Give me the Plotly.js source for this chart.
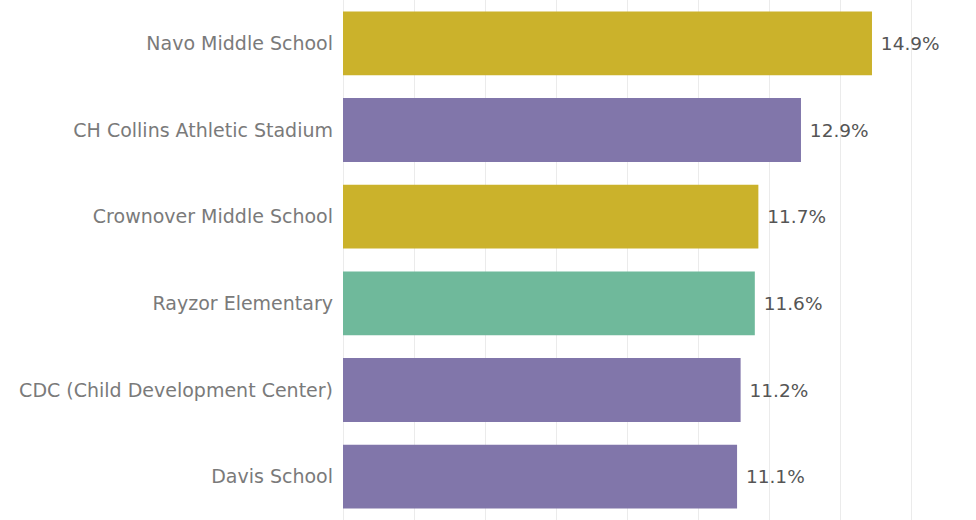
<!DOCTYPE html>
<html>
<head>
<meta charset="utf-8">
<script src="https://cdn.plot.ly/plotly-3.0.1.min.js"></script>
<style>html,body{margin:0;padding:0;background:#fff;}#chart{width:976px;height:520px;}</style>
</head>
<body>
<div id="chart"></div>
<script>
const categories = ["Navo Middle School","CH Collins Athletic Stadium","Crownover Middle School","Rayzor Elementary","CDC (Child Development Center)","Davis School"];
const values = [14.9, 12.9, 11.7, 11.6, 11.2, 11.1];
const barColors = ["#CBB22B","#8176AA","#CBB22B","#6FB99B","#8176AA","#8176AA"];
const valueLabels = values.map(v => "\u00a0" + v.toFixed(1) + "%");

const trace = {
  type: "bar",
  orientation: "h",
  y: categories,
  x: values,
  marker: {color: barColors},
  text: valueLabels,
  textposition: "outside",
  textfont: {family: "DejaVu Sans", size: 18.5, color: "#555555"},
  cliponaxis: false,
  hoverinfo: "none"
};

const layout = {
  width: 976, height: 520,
  margin: {l: 343, r: 0, t: 0, b: 0},
  paper_bgcolor: "#ffffff", plot_bgcolor: "#ffffff",
  bargap: 0.264,
  showlegend: false,
  xaxis: {
    range: [0, 17.83], dtick: 2, showgrid: true, gridcolor: "#ebebeb", gridwidth: 1,
    zeroline: true, zerolinecolor: "#ebebeb", showticklabels: false, ticks: "", fixedrange: true
  },
  yaxis: {
    autorange: "reversed", showgrid: false, zeroline: false, ticks: "", ticklen: 0,
    ticklabelstandoff: 9,
    tickfont: {family: "DejaVu Sans", size: 19, color: "#7a7a7a"}, automargin: false
  }
};

Plotly.newPlot("chart", [trace], layout, {displayModeBar: false, staticPlot: true});
</script>
</body>
</html>
